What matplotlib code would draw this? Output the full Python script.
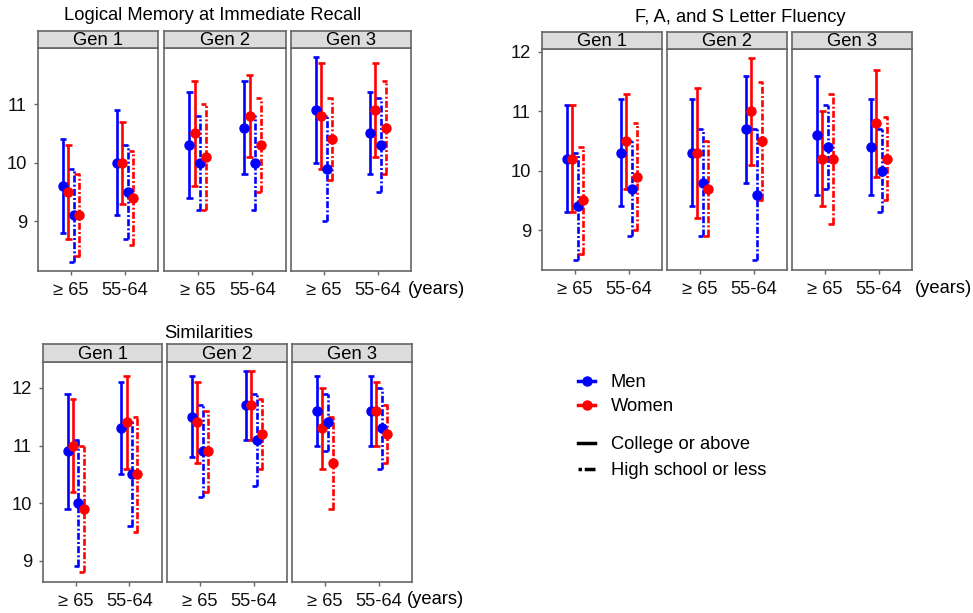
import matplotlib
matplotlib.use("Agg")
import matplotlib.pyplot as plt
from matplotlib.lines import Line2D
import numpy as np

plt.rcParams['font.family'] = ['Liberation Sans', 'DejaVu Sans']
plt.rcParams['lines.scale_dashes'] = False

ages = ['\u2265 65', '55-64']
gens = ['Gen 1', 'Gen 2', 'Gen 3']
# order inside each age group: men college, women college, men HS, women HS
group_colors = ['#0000ff', '#ff0000', '#0000ff', '#ff0000']
group_college = [True, True, False, False]

# values indexed [gen][age][group]
memory_mean = [[[9.6, 9.5, 9.1, 9.1], [10.0, 10.0, 9.5, 9.4]],
               [[10.3, 10.5, 10.0, 10.1], [10.6, 10.8, 10.0, 10.3]],
               [[10.9, 10.8, 9.9, 10.4], [10.5, 10.9, 10.3, 10.6]]]
memory_lo = [[[8.8, 8.7, 8.3, 8.4], [9.1, 9.3, 8.7, 8.6]],
             [[9.4, 9.6, 9.2, 9.2], [9.8, 10.1, 9.2, 9.5]],
             [[10.0, 9.9, 9.0, 9.7], [9.8, 10.1, 9.5, 9.8]]]
memory_hi = [[[10.4, 10.3, 9.9, 9.8], [10.9, 10.7, 10.3, 10.2]],
             [[11.2, 11.4, 10.8, 11.0], [11.4, 11.5, 10.8, 11.1]],
             [[11.8, 11.7, 10.8, 11.1], [11.2, 11.7, 11.1, 11.4]]]

fluency_mean = [[[10.2, 10.2, 9.4, 9.5], [10.3, 10.5, 9.7, 9.9]],
                [[10.3, 10.3, 9.8, 9.7], [10.7, 11.0, 9.6, 10.5]],
                [[10.6, 10.2, 10.4, 10.2], [10.4, 10.8, 10.0, 10.2]]]
fluency_lo = [[[9.3, 9.3, 8.5, 8.6], [9.4, 9.7, 8.9, 9.0]],
              [[9.4, 9.2, 8.9, 8.9], [9.8, 10.1, 8.5, 9.5]],
              [[9.6, 9.4, 9.7, 9.1], [9.6, 9.9, 9.3, 9.5]]]
fluency_hi = [[[11.1, 11.1, 10.3, 10.4], [11.2, 11.3, 10.5, 10.8]],
              [[11.2, 11.4, 10.7, 10.5], [11.6, 11.9, 10.7, 11.5]],
              [[11.6, 11.0, 11.1, 11.3], [11.2, 11.7, 10.7, 10.9]]]

similar_mean = [[[10.9, 11.0, 10.0, 9.9], [11.3, 11.4, 10.5, 10.5]],
                [[11.5, 11.4, 10.9, 10.9], [11.7, 11.7, 11.1, 11.2]],
                [[11.6, 11.3, 11.4, 10.7], [11.6, 11.6, 11.3, 11.2]]]
similar_lo = [[[9.9, 10.2, 8.9, 8.8], [10.5, 10.6, 9.6, 9.5]],
              [[10.8, 10.7, 10.1, 10.2], [11.1, 11.1, 10.3, 10.6]],
              [[11.0, 10.6, 10.9, 9.9], [11.0, 11.0, 10.6, 10.7]]]
similar_hi = [[[11.9, 11.8, 11.1, 11.0], [12.1, 12.2, 11.4, 11.5]],
              [[12.2, 12.1, 11.7, 11.6], [12.3, 12.3, 11.9, 11.8]],
              [[12.2, 12.0, 11.9, 11.5], [12.2, 12.1, 12.0, 11.7]]]

W, H = 973, 613
fig = plt.figure(figsize=(W / 100, H / 100), dpi=100)

DASHDOT = (0, (5, 1.6, 1.4, 1.6))
OFFSETS = [-0.15, -0.05, 0.05, 0.15]
FS = 13.2


def px_axes(l, r, t, b):
    return fig.add_axes([l / W, 1 - b / H, (r - l) / W, (b - t) / H])


def draw_block(title, title_xy, mean, lo, hi, xs, top, bottom, strip_top, ylim, yticks, years_x):
    for g, (l, r) in enumerate(xs):
        ax = px_axes(l, r, top, bottom)
        m = np.array(mean[g])
        lo_ = np.array(lo[g])
        hi_ = np.array(hi[g])
        for k in range(4):
            x = np.arange(1, 3) + OFFSETS[k]
            ls = '-' if group_college[k] else DASHDOT
            c = group_colors[k]
            ax.vlines(x, lo_[:, k], hi_[:, k], color=c, lw=1.9, linestyles=[ls], zorder=2)
            # caps: centred for college, bracket-like for high school
            if group_college[k]:
                cl, cr = x - 0.06, x + 0.06
            else:
                cl, cr = x - 0.085, x + 0.01
            for yv in (lo_[:, k], hi_[:, k]):
                ax.hlines(yv, cl, cr, color=c, lw=1.9, zorder=2)
            ax.plot(x, m[:, k], 'o', color=c, ms=6.5, zorder=3)
        ax.set_xlim(0.39, 2.61)
        ax.set_ylim(*ylim)
        ax.set_xticks([1, 2])
        ax.set_xticklabels(ages, fontsize=FS)
        ax.set_yticks(yticks)
        if g == 0:
            ax.set_yticklabels([str(v) for v in yticks], fontsize=FS)
        else:
            ax.tick_params(axis='y', left=False, labelleft=False)
        ax.tick_params(axis='both', length=3, color='#666666', width=1, pad=5, labelcolor='#111111')
        for s in ax.spines.values():
            s.set_color('#666666')
            s.set_linewidth(1.2)
        ax.set_facecolor('white')

        st = px_axes(l, r, strip_top, top)
        st.set_facecolor('#dcdcdc')
        st.set_xticks([])
        st.set_yticks([])
        for s in st.spines.values():
            s.set_color('#666666')
            s.set_linewidth(1.2)
        st.text(0.5, 0.42, gens[g], ha='center', va='center', fontsize=FS, transform=st.transAxes)
    fig.text(years_x / W, 1 - (bottom + 18) / H, '(years)', fontsize=FS, ha='left', va='center')
    fig.text(title_xy[0] / W, 1 - title_xy[1] / H, title, fontsize=FS, ha='center', va='center')


draw_block('Logical Memory at Immediate Recall', (213, 16), memory_mean, memory_lo, memory_hi,
           [(38, 158), (164, 286), (291, 411)], 48, 271, 31, (8.15, 11.96), [9, 10, 11], 408)
draw_block('F, A, and S Letter Fluency', (740, 18), fluency_mean, fluency_lo, fluency_hi,
           [(542, 662), (667, 787), (792, 912)], 49, 270, 32, (8.33, 12.05), [9, 10, 11, 12], 915)
draw_block('Similarities', (209, 334), similar_mean, similar_lo, similar_hi,
           [(43, 162), (167, 287), (292, 412)], 362, 582, 344, (8.63, 12.45), [9, 10, 11, 12], 407)

sex_handles = [Line2D([], [], color='#0000ff', marker='o', ms=6.5, lw=2.5),
               Line2D([], [], color='#ff0000', marker='o', ms=6.5, lw=2.5)]
edu_handles = [Line2D([], [], color='black', lw=2.5),
               Line2D([], [], color='black', lw=2.5, linestyle=(0, (2.5, 2, 8, 3)))]
leg_kw = dict(loc='upper left', frameon=False, fontsize=13.2, handlelength=0.95,
              handletextpad=0.85, borderaxespad=0, borderpad=0)
fig.legend(sex_handles, ['Men', 'Women'], bbox_to_anchor=(578 / W, 1 - 374 / H),
           labelspacing=0.38, **leg_kw)
fig.legend(edu_handles, ['College or above', 'High school or less'],
           bbox_to_anchor=(578 / W, 1 - 436 / H), labelspacing=0.5, **leg_kw)

fig.savefig('out.png', dpi=100)
